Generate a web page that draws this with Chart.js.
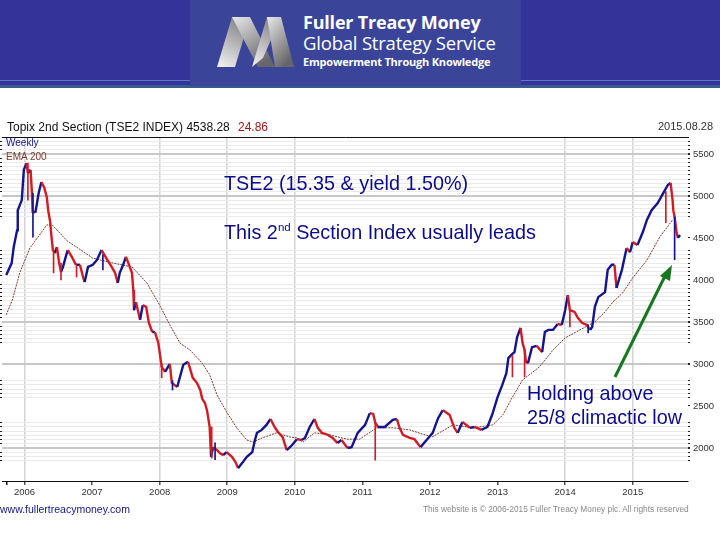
<!DOCTYPE html>
<html>
<head>
<meta charset="utf-8">
<script src="https://cdn.jsdelivr.net/npm/chart.js"></script>
<style>
  html, body { margin: 0; padding: 0; background: #fff; width: 720px; height: 540px; overflow: hidden; }
  body { position: relative; font-family: "Liberation Sans", Arial, sans-serif; }
  canvas { position: absolute; left: 0; top: 0; }
  .txt { position: absolute; white-space: nowrap; line-height: 1; }
  #band { position: absolute; left: 0; top: 0; width: 720px; height: 85px; background: #333399; border-bottom: 3px solid #3b5a8c; }
  #rule { position: absolute; left: 0; top: 80px; width: 720px; height: 1px; background: #5f74cf; }
  #block { position: absolute; left: 190px; top: 0; width: 331px; height: 86px; background: #3a4499; }
  .logo { font-family: "Open Sans", sans-serif; color: #fff; }
  .note { font-size: 19.8px; color: #0b0b8c; }
  .note sup { font-size: 11.5px; line-height: 0; }
</style>
</head>
<body>
<div id="band"></div>
<div id="rule"></div>
<div id="block"></div>
<svg style="position:absolute;left:0;top:0" width="720" height="90">
  <defs>
    <linearGradient id="up" x1="0" y1="1" x2="0.4" y2="0"><stop offset="0" stop-color="#f4f4f4"/><stop offset="1" stop-color="#8a8a8e"/></linearGradient>
    <linearGradient id="down" x1="0" y1="0" x2="0.6" y2="1"><stop offset="0" stop-color="#e8e8e8"/><stop offset="1" stop-color="#66666a"/></linearGradient>
  </defs>
  <polygon points="217,67 232,17 250,17 235,67" fill="url(#up)"/>
  <polygon points="232,17 250,17 275,67 258,67" fill="url(#down)"/>
  <polygon points="252,67 267,17 281,17 263,58" fill="url(#up)"/>
  <polygon points="267,17 281,17 294,67 275,67" fill="url(#down)"/>
</svg>
<div class="txt logo" style="left:303px;top:13px;font-size:18px;font-weight:700;letter-spacing:-.2px">Fuller Treacy Money</div>
<div class="txt logo" style="left:303px;top:34px;font-size:18.5px;letter-spacing:-.2px">Global Strategy Service</div>
<div class="txt logo" style="left:303px;top:56px;font-size:11px;font-weight:700;letter-spacing:-.2px">Empowerment Through Knowledge</div>

<canvas id="tseChart" width="720" height="540"></canvas>

<div class="txt" style="left:7px;top:121px;font-size:12px;color:#111">Topix 2nd Section (TSE2 INDEX) 4538.28</div>
<div class="txt" style="left:238px;top:121px;font-size:12px;color:#a01818">24.86</div>
<div class="txt" style="left:658px;top:121px;font-size:11px;color:#333">2015.08.28</div>
<div class="txt" style="left:6px;top:138px;font-size:10px;color:#14148c">Weekly</div>
<div class="txt" style="left:6px;top:152px;font-size:10px;color:#7a3b2e">EMA 200</div>

<div class="txt note" style="left:224px;top:174px">TSE2 (15.35 &amp; yield 1.50%)</div>
<div class="txt note" style="left:224px;top:223px">This 2<sup>nd</sup> Section Index usually leads</div>
<div class="txt note" style="left:527px;top:384px">Holding above</div>
<div class="txt note" style="left:527px;top:408px">25/8 climactic low</div>

<svg style="position:absolute;left:0;top:0" width="720" height="540">
  <line x1="615" y1="377" x2="666" y2="274" stroke="#17771f" stroke-width="3"/>
  <polygon points="672,265 670,281 660,276" fill="#17771f"/>
</svg>

<div class="txt" style="left:0;top:504px;font-size:10.5px;color:#14148c">www.fullertreacymoney.com</div>
<div class="txt" style="left:423px;top:505px;font-size:8.3px;color:#888">This website is © 2006-2015 Fuller Treacy Money plc. All rights reserved</div>

<script>
// weekly close
const closeDates = [2005.73,2005.81,2005.84,2005.89,2005.90,2005.96,2005.99,2006.03,2006.05,2006.09,2006.11,2006.12,2006.16,2006.18,2006.21,2006.25,2006.29,2006.33,2006.35,2006.38,2006.40,2006.42,2006.45,2006.48,2006.51,2006.54,2006.57,2006.61,2006.64,2006.70,2006.76,2006.82,2006.87,2006.89,2006.94,2007.01,2007.07,2007.14,2007.21,2007.29,2007.34,2007.38,2007.41,2007.46,2007.50,2007.53,2007.59,2007.61,2007.62,2007.65,2007.71,2007.75,2007.80,2007.84,2007.89,2007.93,2007.98,2008.03,2008.08,2008.15,2008.18,2008.26,2008.30,2008.35,2008.42,2008.49,2008.55,2008.60,2008.63,2008.67,2008.70,2008.74,2008.76,2008.79,2008.85,2008.89,2008.94,2008.99,2009.07,2009.12,2009.16,2009.22,2009.29,2009.37,2009.41,2009.44,2009.51,2009.58,2009.64,2009.70,2009.75,2009.82,2009.88,2009.96,2010.03,2010.10,2010.15,2010.22,2010.29,2010.34,2010.40,2010.49,2010.56,2010.63,2010.69,2010.78,2010.84,2010.93,2011.04,2011.11,2011.16,2011.19,2011.23,2011.33,2011.45,2011.51,2011.55,2011.60,2011.70,2011.77,2011.86,2011.95,2012.04,2012.12,2012.19,2012.29,2012.36,2012.41,2012.48,2012.59,2012.66,2012.76,2012.85,2012.92,2013.00,2013.07,2013.13,2013.16,2013.20,2013.25,2013.29,2013.34,2013.37,2013.40,2013.42,2013.45,2013.51,2013.58,2013.66,2013.70,2013.75,2013.82,2013.89,2013.95,2014.00,2014.04,2014.07,2014.14,2014.19,2014.25,2014.32,2014.37,2014.40,2014.44,2014.49,2014.59,2014.63,2014.69,2014.73,2014.76,2014.84,2014.91,2014.96,2015.00,2015.07,2015.15,2015.21,2015.28,2015.37,2015.46,2015.52,2015.56,2015.59,2015.60,2015.62,2015.65,2015.67,2015.70];
const closeValues = [4060,4200,4390,4590,4830,4950,5310,5390,5270,5310,5035,4810,4800,4890,5035,5165,5105,4985,4830,4690,4510,4355,4320,4390,4215,4095,4155,4275,4355,4275,4180,4180,4025,3975,4155,4180,4235,4355,4260,4155,4085,3965,4085,4180,4275,4215,4085,3880,3640,3735,3525,3700,3680,3490,3380,3380,3250,2965,2905,3000,2775,2725,2845,2990,3025,2835,2775,2690,2585,2535,2450,2250,1895,2010,1975,1940,1915,1950,1895,1835,1760,1820,1895,1950,2095,2180,2215,2275,2345,2250,2190,2130,1975,2035,2105,2095,2120,2250,2345,2240,2180,2155,2120,2060,2095,2000,2010,2180,2275,2415,2405,2300,2250,2250,2335,2345,2240,2155,2120,2105,2010,2095,2180,2355,2450,2395,2240,2180,2310,2240,2250,2215,2250,2395,2605,2750,2890,3070,3105,3140,3320,3430,3250,3165,3025,3010,3200,3215,3140,3380,3405,3405,3475,3465,3640,3820,3640,3620,3545,3490,3465,3405,3440,3680,3795,3855,4120,4180,4180,3905,4120,4380,4330,4450,4415,4570,4715,4830,4915,5045,5130,5155,4950,4830,4750,4560,4500,4535];

// long shadows that stick out of the close line
const upWickDates = [2006.125,2007.16,2008.19,2008.82,2014.34,2015.62];
const upWickLows = [4510,4120,2690,1860,3370,4240];
const upWickHighs = [5035,4300,2800,2060,3465,4750];
const downWickDates = [2006.05,2006.43,2006.54,2006.77,2008.03,2008.77,2011.19,2013.22,2013.40,2014.07,2015.49];
const downWickLows = [4950,4085,4000,4035,2835,1880,1855,2845,2845,3440,4680];
const downWickHighs = [5390,4355,4200,4180,3000,2250,2300,3100,3165,3640,5050];

// EMA 200
const emaDates = [2005.73,2005.82,2005.93,2006.08,2006.20,2006.33,2006.41,2006.63,2006.79,2007.01,2007.31,2007.59,2007.81,2008.00,2008.15,2008.30,2008.45,2008.63,2008.74,2008.85,2008.99,2009.14,2009.29,2009.38,2009.52,2009.73,2009.93,2010.03,2010.12,2010.29,2010.52,2010.77,2010.96,2011.21,2011.45,2011.70,2012.03,2012.34,2012.64,2012.93,2013.08,2013.22,2013.37,2013.62,2013.82,2014.00,2014.22,2014.44,2014.59,2014.71,2014.85,2015.00,2015.21,2015.40,2015.59];
const emaValues = [3585,3760,4085,4380,4510,4655,4655,4465,4380,4260,4200,4155,3965,3700,3465,3250,3165,3010,2870,2630,2430,2240,2095,2070,2120,2180,2130,2120,2070,2180,2155,2105,2105,2240,2240,2215,2130,2275,2240,2275,2395,2605,2810,2965,3165,3310,3405,3500,3620,3740,3845,4025,4235,4510,4715];

// axes
const yearTicks = [2006,2007,2008,2009,2010,2011,2012,2013,2014,2015];
const yearGrid = [2006,2008,2009,2010,2014,2015];
const priceLabels = [5500,5000,4500,4000,3500,3000,2500,2000];
const priceMajor = [5500,5000,3500,3000,2000];
const priceMinor = [5650,5600,5550,5450,5400,5350,5300,5250,5200,5150,5100,5050,4950,4900,4850,4800,4750,4350,4300,4250,4200,4150,4100,4050,3950,3900,3850,3800,3750,3700,3650,3600,3550,3450,3400,3350,3300,3250,2800,2750,2700,2650,2600,2300,2250,2200,2150,2100,2050,1950,1900,1850];

const pairs = (xs, ys) => xs.map((x, i) => ({ x: x, y: ys[i] }));
const wicks = (xs, lows, highs) => xs.map((x, i) => ({ x: x, y: [lows[i], highs[i]] }));

const BLUE = '#14148c', RED = '#d01c24', CLEAR = 'rgba(0,0,0,0)';
const yMin = 1607, yMax = 5701;

new Chart(document.getElementById('tseChart'), {
    data: {
        datasets: [
            { type: 'bar', data: wicks(upWickDates, upWickLows, upWickHighs), backgroundColor: BLUE, barThickness: 1, grouped: false },
            { type: 'bar', data: wicks(downWickDates, downWickLows, downWickHighs), backgroundColor: RED, barThickness: 1, grouped: false },
            {
                type: 'line', data: pairs(closeDates, closeValues), borderWidth: 2.4, pointRadius: 0, tension: 0,
                segment: { borderColor: ctx => ctx.p1.parsed.y >= ctx.p0.parsed.y ? BLUE : RED }
            },
            {
                type: 'line', data: pairs(emaDates, emaValues), borderColor: '#7a3b2e', borderWidth: 1,
                borderDash: [2, 1], pointRadius: 0, tension: 0
            }
        ]
    },
    options: {
        responsive: false,
        animation: false,
        layout: { padding: { top: 137 } },
        plugins: { legend: { display: false }, tooltip: { enabled: false } },
        scales: {
            x: {
                type: 'linear', offset: false, min: 2005.667, max: 2015.818,
                afterBuildTicks: axis => { axis.ticks = [2005.73].concat(yearTicks).map(v => ({ value: v })); },
                afterFit: axis => { axis.height = 59; },
                ticks: {
                    autoSkip: false, maxRotation: 0, padding: 2, color: '#333',
                    font: { family: 'Liberation Sans', size: 9.5 },
                    callback: v => yearTicks.includes(v) ? String(v) : ''
                },
                border: { color: '#111', width: 1 },
                grid: {
                    offset: false, tickLength: 4,
                    tickColor: ctx => ctx.tick && !yearTicks.includes(ctx.tick.value) ? '#111' : '#555',
                    color: ctx => ctx.tick && yearGrid.includes(ctx.tick.value) ? '#d4d4d4' : CLEAR,
                    lineWidth: 1.5
                }
            },
            top: {
                type: 'linear', position: 'top', min: 2005.667, max: 2015.818,
                afterFit: axis => { axis.height = 0; },
                ticks: { display: false },
                border: { color: '#111', width: 1 },
                grid: { display: false }
            },
            y: {
                type: 'linear', position: 'right', min: yMin, max: yMax,
                afterBuildTicks: axis => { axis.ticks = priceMinor.concat(priceLabels).sort((a, b) => b - a).map(v => ({ value: v })); },
                afterFit: axis => { axis.width = 32; },
                ticks: {
                    autoSkip: false, padding: 3, color: '#333',
                    font: { family: 'Liberation Sans', size: 9.5 },
                    callback: v => priceLabels.includes(v) ? String(v) : ''
                },
                border: { display: false },
                grid: {
                    tickLength: 2, tickColor: '#222',
                    color: ctx => {
                        if (!ctx.tick) return CLEAR;
                        if (priceMajor.includes(ctx.tick.value)) return '#c8c8c8';
                        return priceMinor.includes(ctx.tick.value) ? '#ebebeb' : CLEAR;
                    },
                    lineWidth: ctx => ctx.tick && priceMajor.includes(ctx.tick.value) ? 2 : 1
                }
            },
            left: {
                type: 'linear', position: 'left', min: yMin, max: yMax,
                afterBuildTicks: axis => { axis.ticks = priceMinor.map(v => ({ value: v })); },
                afterFit: axis => { axis.width = 2; },
                ticks: { display: false },
                border: { display: false },
                grid: { drawOnChartArea: false, tickLength: 2, tickColor: '#222' }
            }
        }
    }
});
</script>
</body>
</html>
